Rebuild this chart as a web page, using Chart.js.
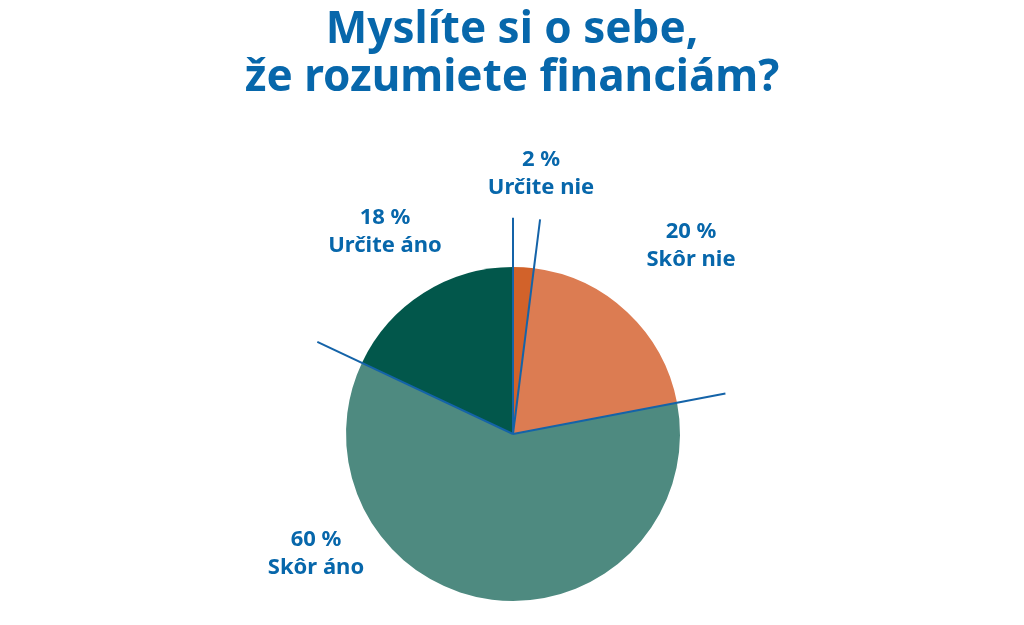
<!DOCTYPE html>
<html>
<head>
<meta charset="utf-8">
<script src="https://cdn.jsdelivr.net/npm/chart.js@4"></script>
<style>
  html, body {margin: 0; padding: 0; background: #ffffff;}
  #wrap {width: 1024px; height: 625px;}
</style>
</head>
<body>
<div id="wrap"><canvas id="pieChart" width="1024" height="625"></canvas></div>
<script>
const categories = ['Určite nie', 'Skôr nie', 'Skôr áno', 'Určite áno'],
      values = [2, 20, 60, 18],
      titleLines = ['Myslíte si o sebe,', 'že rozumiete financiám?'],
      colors = ['#d2622a', '#dc7c52', '#4e8a80', '#02574b'],
      labelPos = [[541, 174], [691, 246], [316, 554], [385, 232]];

const blue = '#0767ab';

const decor = {
    id: 'decor',
    afterDatasetsDraw(chart) {
        const ctx = chart.ctx,
              arcs = chart.getDatasetMeta(0).data;
        ctx.save();
        ctx.strokeStyle = '#1463a8';
        ctx.lineWidth = 2;
        arcs.forEach(arc => {
            const len = arc.outerRadius * 1.295;
            ctx.beginPath();
            ctx.moveTo(arc.x, arc.y);
            ctx.lineTo(arc.x + Math.cos(arc.startAngle) * len, arc.y + Math.sin(arc.startAngle) * len);
            ctx.stroke();
        });

        ctx.fillStyle = blue;
        ctx.textAlign = 'center';
        ctx.textBaseline = 'middle';
        ctx.font = 'bold 44px "Noto Sans"';
        titleLines.forEach((line, i) => {
            ctx.fillText(line, 512, 30 + i * 48);
        });

        ctx.font = 'bold 22px "Noto Sans"';
        categories.forEach((name, i) => {
            const [x, y] = labelPos[i];
            ctx.fillText(values[i] + ' %', x, y - 14);
            ctx.fillText(name, x, y + 14);
        });
        ctx.restore();
    }
};

new Chart(document.getElementById('pieChart'), {
    type: 'pie',
    data: {
        labels: categories,
        datasets: [{
            data: values,
            backgroundColor: colors,
            borderWidth: 0
        }]
    },
    options: {
        responsive: false,
        animation: false,
        layout: {padding: {top: 267, bottom: 24, left: 2, right: 0}},
        plugins: {
            legend: {display: false},
            tooltip: {enabled: false}
        }
    },
    plugins: [decor]
});
</script>
</body>
</html>
